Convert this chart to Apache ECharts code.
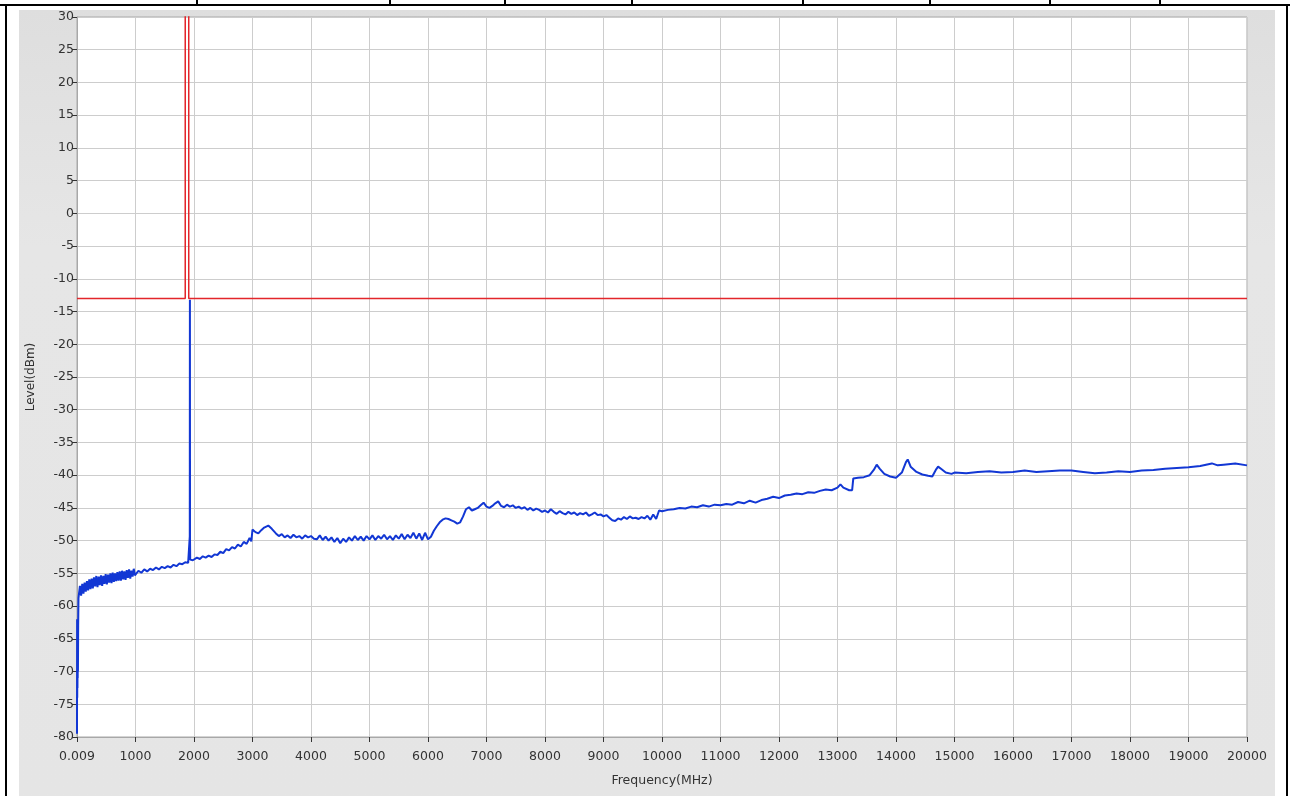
<!DOCTYPE html>
<html>
<head>
<meta charset="utf-8">
<script src="https://cdn.jsdelivr.net/npm/echarts@6/dist/echarts.min.js"></script>
<style>
html,body{margin:0;padding:0;background:#fff;}
#wrap{position:relative;width:1290px;height:796px;overflow:hidden;}
.bl{position:absolute;background:#000;}
#panel{position:absolute;left:19px;top:10px;width:1256px;height:790px;background:linear-gradient(#dedede,#e6e6e6 30%,#e5e5e5);}
#chart{position:absolute;left:0;top:0;width:1290px;height:796px;}
</style>
</head>
<body>
<div id="wrap">
  <div id="panel"></div>
  <div class="bl" style="left:0;top:4px;width:1290px;height:2px"></div>
  <div class="bl" style="left:5px;top:4px;width:2px;height:792px"></div>
  <div class="bl" style="left:1286px;top:4px;width:2px;height:792px"></div>
  <div class="bl" style="left:196px;top:0;width:2px;height:5px"></div>
  <div class="bl" style="left:389px;top:0;width:2px;height:5px"></div>
  <div class="bl" style="left:504px;top:0;width:2px;height:5px"></div>
  <div class="bl" style="left:631px;top:0;width:2px;height:5px"></div>
  <div class="bl" style="left:802px;top:0;width:2px;height:5px"></div>
  <div class="bl" style="left:929px;top:0;width:2px;height:5px"></div>
  <div class="bl" style="left:1049px;top:0;width:2px;height:5px"></div>
  <div class="bl" style="left:1159px;top:0;width:2px;height:5px"></div>
  <div id="chart"></div>
</div>
<script>
// Axis settings
const xTicksMin = 0, xTicksMax = 20000, xTickStep = 1000;
const yMin = -80, yMax = 30, yStep = 5;
const xAxisTitle = 'Frequency(MHz)';
const yAxisTitle = 'Level(dBm)';

// Limit line (red), [MHz, dBm]
const limitLine = [[0.009,-13],[1850,-13],[1850,200],[1910,200],[1910,-13],[20000,-13]];

// Measured trace (blue), [MHz, dBm] — low band start
const traceLow = [
  [0.009,-79.5],[2,-62],[4,-74],[6,-64],[8,-72.5],[10,-65],[12,-71],[14,-64.5],[16,-70],[20,-63],[25,-58.8]
];
// 30 - 1000 MHz, noisy band
const traceBand = [
  [30,-58.6],[50,-56.9],[70,-58.4],[90,-56.6],[110,-58.1],[130,-56.4],[150,-57.8],[170,-56.2],[190,-57.6],[210,-55.9],
  [230,-57.4],[250,-55.8],[270,-57.3],[290,-55.6],[310,-57.0],[330,-55.4],[350,-57.1],[370,-55.5],[390,-56.8],[410,-55.3],
  [430,-56.9],[450,-55.4],[470,-56.6],[490,-55.1],[510,-56.7],[530,-55.2],[550,-56.4],[570,-55.0],[590,-56.5],[610,-54.9],
  [630,-56.3],[650,-55.0],[670,-56.2],[690,-54.8],[710,-56.1],[730,-54.7],[750,-56.1],[770,-54.6],[790,-55.9],[810,-54.7],
  [830,-56.0],[850,-54.5],[870,-55.7],[890,-54.4],[910,-55.8],[930,-54.6],[950,-55.5],[970,-54.3],[990,-55.3]
];
// 1000 - 3000 MHz incl. carrier spike
const traceMid = [
  [1050,-54.6],[1100,-54.9],[1150,-54.4],[1200,-54.7],[1250,-54.3],[1300,-54.5],[1350,-54.1],[1400,-54.4],[1450,-54.0],
  [1500,-54.2],[1550,-53.9],[1600,-54.1],[1650,-53.7],[1700,-53.9],[1750,-53.5],[1800,-53.6],[1850,-53.3],[1900,-53.4],
  [1925,-53.1],[1928,-49.3],[1930,-13.2],[1932,-50.0],[1935,-52.9],
  [1980,-53.0],[2050,-52.6],[2100,-52.8],[2150,-52.4],[2200,-52.6],[2250,-52.3],[2300,-52.5],[2350,-52.1],[2400,-52.2],
  [2450,-51.7],[2500,-51.9],[2550,-51.3],[2600,-51.5],[2650,-51.0],[2700,-51.2],[2750,-50.6],[2800,-50.9],[2850,-50.2],
  [2900,-50.5],[2950,-49.6],[2980,-50.1]
];
// 3000 - 6000 MHz
const traceC = [
  [3000,-48.3],[3050,-48.7],[3100,-48.9],[3150,-48.4],[3200,-48.0],[3270,-47.7],[3330,-48.2],[3400,-48.9],[3450,-49.3],
  [3500,-49.0],[3550,-49.5],[3600,-49.2],[3650,-49.6],[3700,-49.1],[3750,-49.5],[3800,-49.3],[3850,-49.7],[3900,-49.2],
  [3950,-49.5],[4000,-49.3],[4050,-49.7],[4100,-49.8],[4150,-49.2],[4200,-49.9],[4250,-49.4],[4300,-50.0],[4350,-49.5],
  [4400,-50.2],[4450,-49.6],[4500,-50.4],[4550,-49.7],[4600,-50.2],[4650,-49.5],[4700,-50.0],[4750,-49.3],[4800,-49.9],
  [4850,-49.4],[4900,-50.0],[4950,-49.3],[5000,-49.8],[5050,-49.2],[5100,-49.9],[5150,-49.3],[5200,-49.7],[5250,-49.1],
  [5300,-49.8],[5350,-49.3],[5400,-49.9],[5450,-49.2],[5500,-49.7],[5550,-49.0],[5600,-49.8],[5650,-49.1],[5700,-49.6],
  [5750,-48.8],[5800,-49.7],[5850,-48.9],[5900,-49.9],[5950,-48.8],[6000,-49.8]
];
// 6000 - 10000 MHz
const traceD = [
  [6050,-49.4],[6100,-48.5],[6150,-47.8],[6200,-47.2],[6250,-46.8],[6300,-46.6],[6350,-46.7],[6400,-46.9],[6450,-47.1],
  [6500,-47.4],[6550,-47.2],[6600,-46.3],[6650,-45.2],[6700,-44.9],[6750,-45.4],[6800,-45.2],[6850,-45.0],[6900,-44.6],
  [6950,-44.2],[7000,-44.8],[7050,-45.0],[7100,-44.7],[7150,-44.3],[7200,-44.0],[7250,-44.7],[7300,-44.9],[7350,-44.5],
  [7400,-44.8],[7450,-44.6],[7500,-45.0],[7550,-44.8],[7600,-45.1],[7650,-44.9],[7700,-45.3],[7750,-45.0],[7800,-45.4],
  [7850,-45.1],[7900,-45.3],[7950,-45.6],[8000,-45.4],[8050,-45.7],[8100,-45.2],[8150,-45.6],[8200,-45.9],[8250,-45.5],
  [8300,-45.8],[8350,-46.0],[8400,-45.6],[8450,-45.9],[8500,-45.7],[8550,-46.1],[8600,-45.8],[8650,-46.0],[8700,-45.7],
  [8750,-46.2],[8800,-46.0],[8850,-45.7],[8900,-46.1],[8950,-46.0],[9000,-46.3],[9050,-46.1],[9100,-46.5],[9150,-46.9],
  [9200,-47.0],[9250,-46.6],[9300,-46.8],[9350,-46.4],[9400,-46.7],[9450,-46.3],[9500,-46.6],[9550,-46.5],[9600,-46.7],
  [9650,-46.4],[9700,-46.6],[9750,-46.2],[9800,-46.8],[9850,-46.0],[9900,-46.7],[9950,-45.4]
];
// 10000 - 20000 MHz
const traceE = [
  [10000,-45.5],[10100,-45.3],[10200,-45.2],[10300,-45.0],[10400,-45.1],[10500,-44.8],[10600,-44.9],[10700,-44.6],
  [10800,-44.8],[10900,-44.5],[11000,-44.6],[11100,-44.4],[11200,-44.5],[11300,-44.1],[11400,-44.3],[11500,-43.9],
  [11600,-44.2],[11700,-43.8],[11800,-43.6],[11900,-43.3],[12000,-43.5],[12100,-43.1],[12200,-43.0],[12300,-42.8],
  [12400,-42.9],[12500,-42.6],[12600,-42.7],[12700,-42.4],[12800,-42.2],[12900,-42.3],[13000,-41.9],[13050,-41.4],
  [13100,-41.9],[13200,-42.3],[13250,-42.3],[13270,-40.5],[13350,-40.4],[13450,-40.3],[13550,-40.0],[13620,-39.2],
  [13670,-38.4],[13720,-39.0],[13800,-39.8],[13900,-40.2],[14000,-40.4],[14100,-39.6],[14170,-38.0],[14200,-37.6],
  [14250,-38.7],[14350,-39.5],[14450,-39.9],[14550,-40.1],[14620,-40.2],[14680,-39.2],[14720,-38.7],[14780,-39.1],
  [14850,-39.6],[14950,-39.8],[15000,-39.6],[15200,-39.7],[15400,-39.5],[15600,-39.4],[15800,-39.6],[16000,-39.5],
  [16200,-39.3],[16400,-39.5],[16600,-39.4],[16800,-39.3],[17000,-39.3],[17200,-39.5],[17400,-39.7],[17600,-39.6],
  [17800,-39.4],[18000,-39.5],[18200,-39.3],[18400,-39.2],[18600,-39.0],[18800,-38.9],[19000,-38.8],[19200,-38.6],
  [19400,-38.2],[19500,-38.5],[19600,-38.4],[19800,-38.2],[20000,-38.5]
];

const blueTrace = [].concat(traceLow, traceBand, traceMid, traceC, traceD, traceE);

const chart = echarts.init(document.getElementById('chart'));
const labelFont = {color:'#333', fontFamily:'DejaVu Sans', fontSize:12.5};
chart.setOption({
  animation:false,
  backgroundColor:'transparent',
  grid:{left:77, top:17, right:43, bottom:59, show:true, backgroundColor:'#fff', borderColor:'#a8a8a8', borderWidth:1},
  xAxis:{
    type:'value', min:xTicksMin, max:xTicksMax, interval:xTickStep,
    name:xAxisTitle, nameLocation:'middle', nameGap:37,
    nameTextStyle:{color:'#333', fontFamily:'DejaVu Sans', fontSize:12.5},
    axisLine:{show:true, onZero:false, lineStyle:{color:'#a8a8a8'}},
    axisTick:{show:true, inside:false, length:5, lineStyle:{color:'#333'}},
    axisLabel:Object.assign({margin:13, formatter:function(v){return v===0?'0.009':String(v);}}, labelFont),
    splitLine:{show:true, lineStyle:{color:'#cdcdcd', width:1}}
  },
  yAxis:{
    type:'value', min:yMin, max:yMax, interval:yStep,
    name:yAxisTitle, nameLocation:'middle', nameGap:40, nameRotate:90,
    nameTextStyle:{color:'#333', fontFamily:'DejaVu Sans', fontSize:12},
    axisLine:{show:true, onZero:false, lineStyle:{color:'#a8a8a8'}},
    axisTick:{show:true, inside:false, length:5, lineStyle:{color:'#333'}},
    axisLabel:Object.assign({margin:3}, labelFont),
    splitLine:{show:true, lineStyle:{color:'#cdcdcd', width:1}}
  },
  series:[
    {type:'line', data:blueTrace, showSymbol:false, symbol:'none', clip:true,
     lineStyle:{color:'#1237d4', width:2}, z:2},
    {type:'line', data:limitLine, showSymbol:false, symbol:'none', clip:true,
     lineStyle:{color:'#e3262b', width:1.5}, z:3}
  ]
});
</script>
</body>
</html>
